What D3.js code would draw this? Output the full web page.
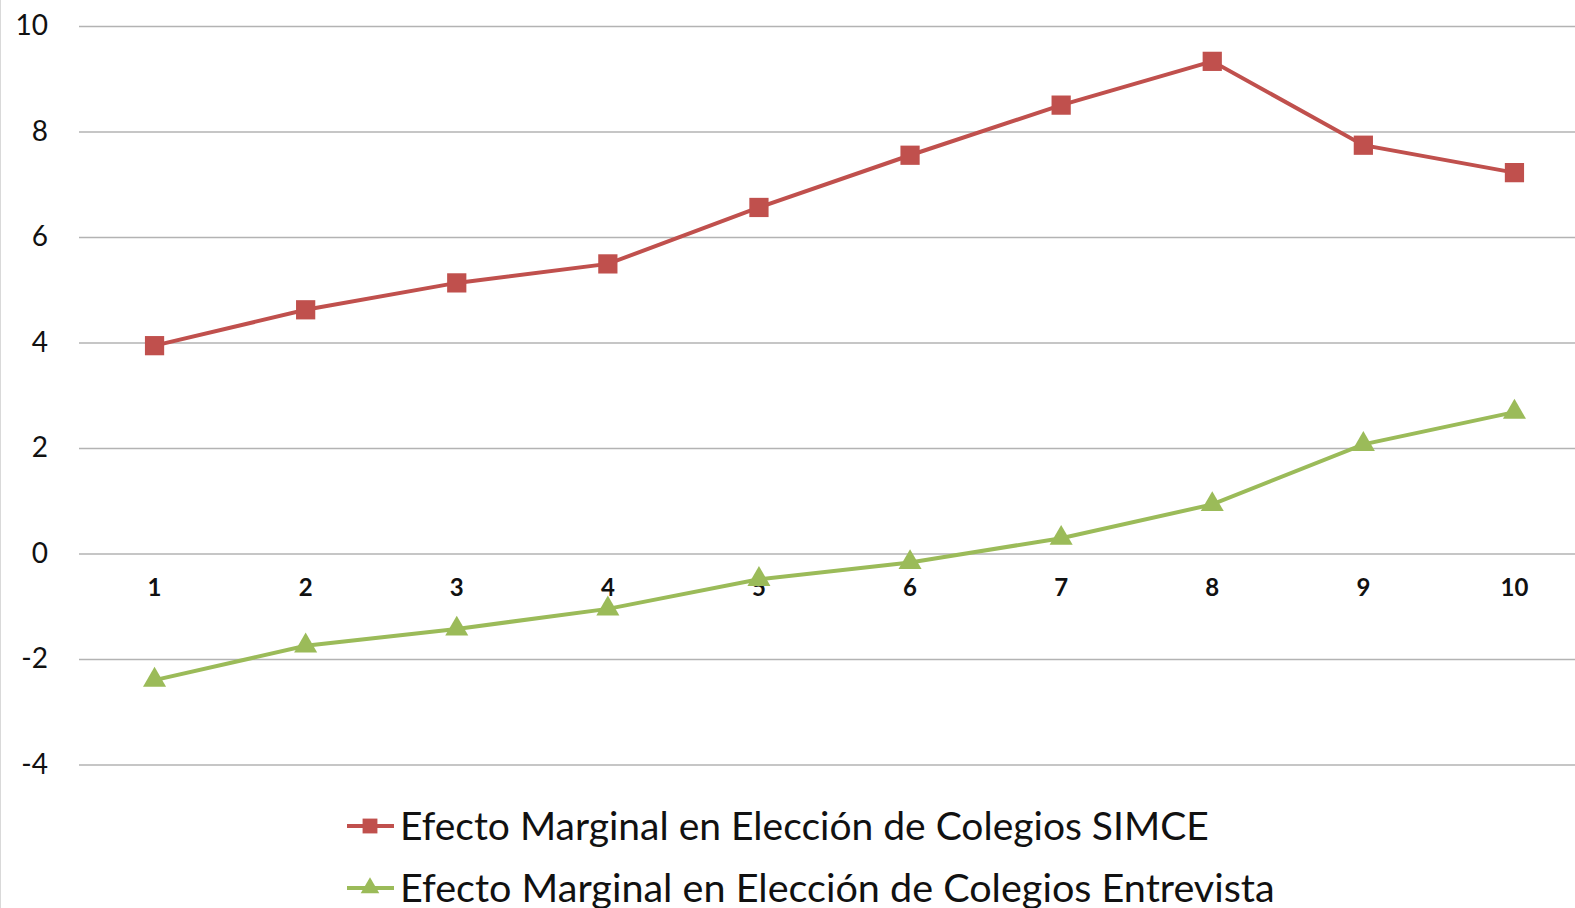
<!DOCTYPE html>
<html>
<head>
<meta charset="utf-8">
<script src="https://cdn.jsdelivr.net/npm/d3@7"></script>
<style>
  html, body { margin: 0; padding: 0; background: #fff; overflow: hidden; }
  svg { display: block; font-family: Lato, "Open Sans", sans-serif; }
</style>
</head>
<body>
<div id="chart"></div>
<script>
// chart data
const categories = ["1", "2", "3", "4", "5", "6", "7", "8", "9", "10"];
const simce = [3.94, 4.62, 5.13, 5.49, 6.56, 7.55, 8.50, 9.33, 7.74, 7.22];
const entrevista = [-2.40, -1.75, -1.43, -1.05, -0.49, -0.17, 0.29, 0.93, 2.07, 2.68];
const yTicks = [-4, -2, 0, 2, 4, 6, 8, 10];
const seriesNames = [
  "Efecto Marginal en Elección de Colegios SIMCE",
  "Efecto Marginal en Elección de Colegios Entrevista"
];

const W = 1575, H = 908;
const plot = { left: 79, right: 1590, top: 26, bottom: 764.5 };

const svg = d3.select("#chart").append("svg")
  .attr("width", W).attr("height", H);

// faint frame edge on the left
svg.append("line")
  .attr("x1", 0.5).attr("x2", 0.5).attr("y1", 0).attr("y2", H)
  .attr("stroke", "#d9d9d9").attr("stroke-width", 1);

const x = d3.scaleBand().domain(categories).range([plot.left, plot.right]);
const y = d3.scaleLinear().domain([-4, 10]).range([plot.bottom, plot.top]);

// gridlines + y labels (plain hyphen for negatives, like the original)
const yAxis = svg.append("g")
  .attr("transform", `translate(${plot.left},0)`)
  .call(d3.axisLeft(y).tickValues(yTicks).tickFormat(d => String(d))
    .tickSize(-(W - plot.left)).tickPadding(31));
yAxis.select(".domain").remove();
yAxis.selectAll(".tick line").attr("stroke", "#b3b3b3").attr("stroke-width", 1.5);
yAxis.selectAll(".tick text")
  .attr("fill", "#111").style("font-size", "28px")
  .attr("font-family", "Lato, 'Open Sans', sans-serif");

// category labels, sitting under the zero line
const xAxis = svg.append("g")
  .attr("transform", `translate(0,${y(0)})`)
  .call(d3.axisBottom(x).tickSize(0).tickPadding(25));
xAxis.select(".domain").remove();
xAxis.selectAll(".tick text")
  .attr("fill", "#111").style("font-size", "24px").style("font-weight", "bold")
  .attr("font-family", "Lato, 'Open Sans', sans-serif");

const cx = (d, i) => x(categories[i]) + x.bandwidth() / 2;

const series = [
  { name: seriesNames[0], values: simce, color: "#C0504D", shape: d3.symbolSquare },
  { name: seriesNames[1], values: entrevista, color: "#9BBB59", shape: d3.symbolTriangle }
];

const line = d3.line().x(cx).y(d => y(d));

series.forEach(s => {
  svg.append("path")
    .datum(s.values)
    .attr("fill", "none")
    .attr("stroke", s.color)
    .attr("stroke-width", 4)
    .attr("d", line);

  const sym = d3.symbol().type(s.shape).size(s.shape === d3.symbolSquare ? 370 : 230);
  svg.append("g").selectAll("path")
    .data(s.values)
    .join("path")
    .attr("d", sym)
    .attr("transform", (d, i) => `translate(${cx(d, i)},${y(d)})`)
    .attr("fill", s.color);
});

// legend
const legend = svg.append("g");
const legendRows = [826, 888];
series.forEach((s, i) => {
  const g = legend.append("g").attr("transform", `translate(0,${legendRows[i]})`);
  g.append("line")
    .attr("x1", 347).attr("x2", 394).attr("y1", 0).attr("y2", 0)
    .attr("stroke", s.color).attr("stroke-width", 4);
  g.append("path")
    .attr("d", d3.symbol().type(s.shape).size(s.shape === d3.symbolSquare ? 220 : 150))
    .attr("transform", "translate(370,0)")
    .attr("fill", s.color);
  const t = g.append("text")
    .attr("x", 400).attr("y", 0).attr("dy", "0.36em")
    .attr("fill", "#111")
    .style("font-size", "34px")
    .text(s.name);
  // fit to the width
  const target = i === 0 ? 809 : 875;
  const len = t.node().getComputedTextLength();
  t.style("font-size", (34 * target / len).toFixed(2) + "px");
});
</script>
</body>
</html>
